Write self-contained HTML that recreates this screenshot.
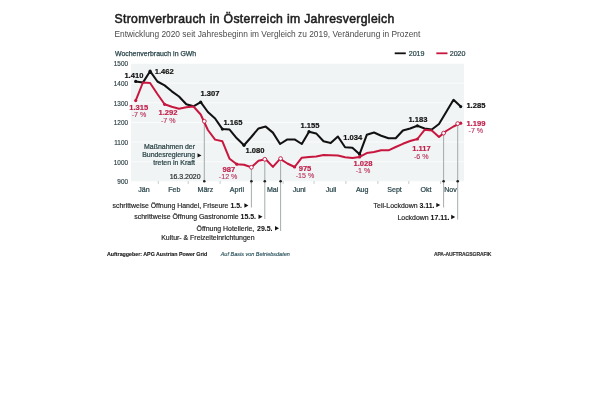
<!DOCTYPE html>
<html><head><meta charset="utf-8"><style>
html,body{margin:0;padding:0;background:#fff;}
body{width:600px;height:400px;overflow:hidden;}
svg{display:block;will-change:transform;font-family:"Liberation Sans",sans-serif;}
.g{stroke:#fbfcfc;stroke-width:1;}
.vg{stroke:#f6f8f8;stroke-width:1;}
.ax{font-size:6.4px;fill:#2f4145;stroke:#2f4145;stroke-width:0.15px;}
.mon{font-size:7.1px;fill:#2b474c;stroke:#2b474c;stroke-width:0.22px;}
.tk{stroke:#b8c2c4;stroke-width:0.8;}
.vl{stroke:#8e9799;stroke-width:0.8;}
.lb{font-size:7.6px;font-weight:bold;fill:#111;stroke:#111;stroke-width:0.18px;}
.lr{font-size:7.6px;font-weight:bold;fill:#c01f4a;stroke:#c01f4a;stroke-width:0.18px;}
.lp{font-size:7.1px;fill:#b8305a;stroke:#b8305a;stroke-width:0.12px;}
.an{font-size:6.95px;fill:#2b4448;stroke:#2b4448;stroke-width:0.22px;}
.bn{font-size:6.95px;fill:#262626;stroke:#262626;stroke-width:0.18px;}
.bb{font-weight:bold;fill:#111;stroke:#111;stroke-width:0.05px;}
.an2{font-size:6.95px;fill:#2a2f30;stroke:#2a2f30;stroke-width:0.2px;}
.t1{font-size:12.2px;font-weight:normal;fill:#1e1e1e;stroke:#1e1e1e;stroke-width:0.55px;letter-spacing:0.34px;}
.t2{font-size:8.37px;fill:#4a4a4a;}
.yl{font-size:6.95px;fill:#2b474c;stroke:#2b474c;stroke-width:0.25px;}
.lg{font-size:7.1px;fill:#2b474c;stroke:#2b474c;stroke-width:0.22px;}
.ft{font-size:5.3px;font-weight:bold;fill:#111;stroke:#111;stroke-width:0.1px;}
.fi{font-size:5.5px;font-style:italic;fill:#1f4a55;stroke:#1f4a55;stroke-width:0.12px;}
.fa{font-size:5px;letter-spacing:-0.08px;font-weight:bold;fill:#333;stroke:#333;stroke-width:0.15px;}
</style></head><body>
<svg width="600" height="400" viewBox="0 0 600 400">
<rect width="600" height="400" fill="#fff"/>
<text x="114.5" y="22.6" class="t1">Stromverbrauch in Österreich im Jahresvergleich</text>
<text x="114.5" y="37" class="t2">Entwicklung 2020 seit Jahresbeginn im Vergleich zu 2019, Veränderung in Prozent</text>
<text x="115" y="55.7" class="yl">Wochenverbrauch in GWh</text>
<line x1="394.7" x2="405.8" y1="53.3" y2="53.3" stroke="#111" stroke-width="1.8"/>
<text x="408.7" y="55.9" class="lg">2019</text>
<line x1="436.3" x2="447.5" y1="53.3" y2="53.3" stroke="#c8173f" stroke-width="1.8"/>
<text x="449.7" y="55.9" class="lg">2020</text>
<rect x="131" y="63" width="333" height="118.5" fill="#f0f4f4"/>

<line x1="131" x2="464" y1="181.3" y2="181.3" class="g"/><text x="128" y="184.2" class="ax" text-anchor="end">900</text><line x1="131" x2="464" y1="161.7" y2="161.7" class="g"/><text x="128" y="164.6" class="ax" text-anchor="end">1000</text><line x1="131" x2="464" y1="142.0" y2="142.0" class="g"/><text x="128" y="144.9" class="ax" text-anchor="end">1100</text><line x1="131" x2="464" y1="122.4" y2="122.4" class="g"/><text x="128" y="125.3" class="ax" text-anchor="end">1200</text><line x1="131" x2="464" y1="102.8" y2="102.8" class="g"/><text x="128" y="105.7" class="ax" text-anchor="end">1300</text><line x1="131" x2="464" y1="83.1" y2="83.1" class="g"/><text x="128" y="86.0" class="ax" text-anchor="end">1400</text><line x1="131" x2="464" y1="63.5" y2="63.5" class="g"/><text x="128" y="66.4" class="ax" text-anchor="end">1500</text>
<line x1="158.3" x2="158.3" y1="181" y2="184" class="tk"/><line x1="188.2" x2="188.2" y1="181" y2="184" class="tk"/><line x1="220.1" x2="220.1" y1="181" y2="184" class="tk"/><line x1="251.1" x2="251.1" y1="181" y2="184" class="tk"/><line x1="283.1" x2="283.1" y1="181" y2="184" class="tk"/><line x1="314.0" x2="314.0" y1="181" y2="184" class="tk"/><line x1="345.9" x2="345.9" y1="181" y2="184" class="tk"/><line x1="377.9" x2="377.9" y1="181" y2="184" class="tk"/><line x1="408.8" x2="408.8" y1="181" y2="184" class="tk"/><line x1="440.7" x2="440.7" y1="181" y2="184" class="tk"/>
<text x="144" y="192" class="mon" text-anchor="middle">Jän</text><text x="174.3" y="192" class="mon" text-anchor="middle">Feb</text><text x="205.4" y="192" class="mon" text-anchor="middle">März</text><text x="236.9" y="192" class="mon" text-anchor="middle">April</text><text x="272.6" y="192" class="mon" text-anchor="middle">Mai</text><text x="299.2" y="192" class="mon" text-anchor="middle">Juni</text><text x="331.1" y="192" class="mon" text-anchor="middle">Juli</text><text x="362.2" y="192" class="mon" text-anchor="middle">Aug</text><text x="394.5" y="192" class="mon" text-anchor="middle">Sept</text><text x="426" y="192" class="mon" text-anchor="middle">Okt</text><text x="450.5" y="192" class="mon" text-anchor="middle">Nov</text>
<line x1="204.3" x2="204.3" y1="121.3" y2="181.3" class="vl"/><circle cx="204.3" cy="181.3" r="1.3" fill="#222"/><line x1="251.4" x2="251.4" y1="167.3" y2="207.5" class="vl"/><circle cx="251.4" cy="181.3" r="1.3" fill="#222"/><line x1="264.8" x2="264.8" y1="159.3" y2="219" class="vl"/><circle cx="264.8" cy="181.3" r="1.3" fill="#222"/><line x1="280.6" x2="280.6" y1="158.6" y2="231" class="vl"/><circle cx="280.6" cy="181.3" r="1.3" fill="#222"/><line x1="443.6" x2="443.6" y1="133.1" y2="207.5" class="vl"/><circle cx="443.6" cy="181.3" r="1.3" fill="#222"/><line x1="457.7" x2="457.7" y1="123.6" y2="219.5" class="vl"/><circle cx="457.7" cy="181.3" r="1.3" fill="#222"/>
<polyline points="135.7,81.4 142.9,82.6 150.1,71.2 157.4,81.5 164.6,85.4 171.8,91.3 179.0,96.5 186.3,104.3 193.5,106.3 200.7,102.2 207.9,112.0 215.1,118.5 222.4,129.1 229.6,129.6 236.8,138.3 244.0,145.3 251.3,137.0 258.5,128.4 265.7,126.6 272.9,132.6 280.1,144.0 287.4,139.4 294.6,139.4 301.8,144.0 309.0,131.7 316.2,133.4 323.5,141.3 330.7,143.1 337.9,136.5 345.1,147.3 352.4,147.8 359.6,154.2 366.8,134.8 374.0,132.5 381.2,135.7 388.5,138.3 395.7,138.3 402.9,130.5 410.1,128.5 417.4,125.8 424.6,128.5 431.8,129.5 439.0,124.0 446.2,112.0 453.5,99.8 460.7,106.6" fill="none" stroke="#111" stroke-width="2.05" stroke-linejoin="round"/>
<polyline points="135.7,100.6 142.9,82.5 150.1,83.0 157.4,94.0 164.6,104.3 171.8,106.8 179.0,108.8 186.3,107.2 193.5,106.5 200.7,114.5 207.9,130.0 215.1,139.6 222.4,141.3 229.6,158.8 236.8,164.2 244.0,164.8 251.3,167.3 258.5,160.8 265.7,159.3 272.9,166.9 280.1,158.8 287.4,163.5 294.6,167.0 301.8,157.7 309.0,156.9 316.2,156.4 323.5,155.0 330.7,155.3 337.9,155.6 345.1,157.2 352.4,157.9 359.6,156.9 366.8,153.1 374.0,152.0 381.2,150.2 388.5,150.3 395.7,147.0 402.9,143.8 410.1,141.0 417.4,139.0 424.6,129.8 431.8,130.5 439.0,137.0 446.2,131.0 453.5,126.5 460.7,123.2" fill="none" stroke="#c8173f" stroke-width="2.0" stroke-linejoin="round"/>
<circle cx="135.7" cy="81.4" r="1.6" fill="#111"/><circle cx="150.1" cy="71.2" r="1.6" fill="#111"/><circle cx="200.7" cy="102.2" r="1.6" fill="#111"/><circle cx="222.4" cy="129.1" r="1.6" fill="#111"/><circle cx="244.0" cy="145.3" r="1.6" fill="#111"/><circle cx="309.0" cy="131.7" r="1.6" fill="#111"/><circle cx="359.6" cy="154.2" r="1.6" fill="#111"/><circle cx="417.4" cy="125.8" r="1.6" fill="#111"/><circle cx="460.7" cy="106.6" r="1.6" fill="#111"/><circle cx="135.7" cy="100.6" r="1.6" fill="#c8173f"/><circle cx="164.6" cy="104.3" r="1.6" fill="#c8173f"/><circle cx="236.8" cy="164.2" r="1.6" fill="#c8173f"/><circle cx="294.6" cy="167.0" r="1.6" fill="#c8173f"/><circle cx="359.6" cy="156.9" r="1.6" fill="#c8173f"/><circle cx="417.4" cy="139.0" r="1.6" fill="#c8173f"/><circle cx="460.7" cy="123.2" r="1.6" fill="#c8173f"/>
<circle cx="204.3" cy="121.3" r="1.9" fill="#fff" stroke="#c01f4a" stroke-width="0.95"/><circle cx="251.4" cy="167.3" r="1.9" fill="#fff" stroke="#c01f4a" stroke-width="0.95"/><circle cx="264.8" cy="159.3" r="1.9" fill="#fff" stroke="#c01f4a" stroke-width="0.95"/><circle cx="280.6" cy="158.6" r="1.9" fill="#fff" stroke="#c01f4a" stroke-width="0.95"/><circle cx="443.6" cy="133.1" r="1.9" fill="#fff" stroke="#c01f4a" stroke-width="0.95"/><circle cx="457.7" cy="123.6" r="1.9" fill="#fff" stroke="#c01f4a" stroke-width="0.95"/>
<text x="133.9" y="77.8" class="lb" text-anchor="middle">1.410</text><text x="164.3" y="73.5" class="lb" text-anchor="middle">1.462</text><text x="210" y="96.3" class="lb" text-anchor="middle">1.307</text><text x="232.9" y="124.9" class="lb" text-anchor="middle">1.165</text><text x="255" y="153" class="lb" text-anchor="middle">1.080</text><text x="310" y="127.5" class="lb" text-anchor="middle">1.155</text><text x="352.8" y="140" class="lb" text-anchor="middle">1.034</text><text x="417.9" y="122" class="lb" text-anchor="middle">1.183</text><text x="475.9" y="108.2" class="lb" text-anchor="middle">1.285</text><text x="138.7" y="110" class="lr" text-anchor="middle">1.315</text><text x="168" y="115.3" class="lr" text-anchor="middle">1.292</text><text x="228.9" y="171.7" class="lr" text-anchor="middle">987</text><text x="305" y="170.9" class="lr" text-anchor="middle">975</text><text x="363" y="166.1" class="lr" text-anchor="middle">1.028</text><text x="421.5" y="151.1" class="lr" text-anchor="middle">1.117</text><text x="475.9" y="126.2" class="lr" text-anchor="middle">1.199</text><text x="139" y="117" class="lp" text-anchor="middle">-7 %</text><text x="168.3" y="122.7" class="lp" text-anchor="middle">-7 %</text><text x="228.1" y="178.7" class="lp" text-anchor="middle">-12 %</text><text x="305" y="178.1" class="lp" text-anchor="middle">-15 %</text><text x="363" y="173.1" class="lp" text-anchor="middle">-1 %</text><text x="421.2" y="158.5" class="lp" text-anchor="middle">-6 %</text><text x="475.9" y="133.3" class="lp" text-anchor="middle">-7 %</text>
<text x="195" y="149" class="an" text-anchor="end">Maßnahmen der</text><text x="195" y="157.3" class="an" text-anchor="end">Bundesregierung</text><text x="195" y="165" class="an" text-anchor="end">treten in Kraft</text><path d="M197.5,153.2 L201.5,155.4 L197.5,157.6 Z" fill="#111"/><text x="200.5" y="178.5" class="an2" text-anchor="end">16.3.2020</text>
<text x="242" y="208" class="bn" text-anchor="end">schrittweise Öffnung Handel, Friseure <tspan class="bb">1.5.</tspan></text><path d="M244.4,203.3 L248.4,205.5 L244.4,207.7 Z" fill="#111"/><text x="256" y="219.2" class="bn" text-anchor="end">schrittweise Öffnung Gastronomie <tspan class="bb">15.5.</tspan></text><path d="M258.5,214.5 L262.5,216.7 L258.5,218.89999999999998 Z" fill="#111"/><text x="254.3" y="230.8" class="bn" text-anchor="end">Öffnung Hotellerie,</text><text x="272.5" y="230.8" class="bn bb" text-anchor="end">29.5.</text><path d="M275,226.10000000000002 L279,228.3 L275,230.5 Z" fill="#111"/><text x="254.5" y="240" class="bn" text-anchor="end">Kultur- &amp; Freizeiteinrichtungen</text><text x="434.5" y="207.6" class="bn" text-anchor="end">Teil-Lockdown <tspan class="bb">3.11.</tspan></text><path d="M436.3,202.9 L440.3,205.1 L436.3,207.29999999999998 Z" fill="#111"/><text x="449.5" y="219.5" class="bn" text-anchor="end">Lockdown <tspan class="bb">17.11.</tspan></text><path d="M451.2,214.8 L455.2,217 L451.2,219.2 Z" fill="#111"/>
<text x="107" y="256" class="ft">Auftraggeber: APG Austrian Power Grid</text>
<text x="220.7" y="256" class="fi">Auf Basis von Betriebsdaten</text>
<text x="491.3" y="256" class="fa" text-anchor="end">APA-AUFTRAGSGRAFIK</text>
</svg>
</body></html>
